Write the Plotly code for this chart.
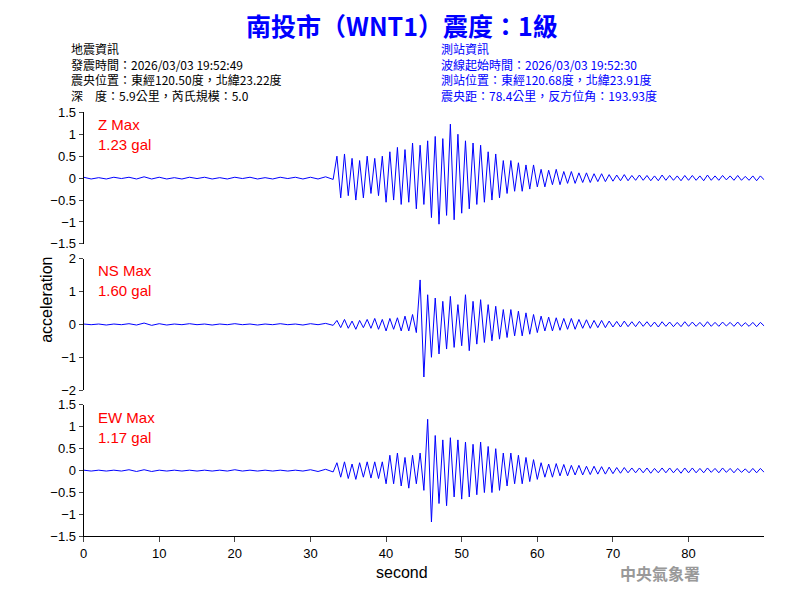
import numpy as np
import plotly.graph_objects as go

# pre-event noise, 0..33 s every 1 s
pre_z = [0.02,-0.02,0.01,-0.02,0.02,-0.01,0.02,-0.02,0.03,-0.02,0.02,-0.02,0.01,-0.02,0.02,-0.01,0.02,-0.02,0.01,-0.02,0.02,-0.01,0.02,-0.02,0.01,-0.02,0.02,-0.01,0.02,-0.02,0.02,-0.02,0.03,-0.03]
pre_ns = [0.01,-0.01,0.01,-0.02,0.01,-0.01,0.02,-0.02,0.04,-0.03,0.02,-0.02,0.01,-0.01,0.02,-0.01,0.01,-0.02,0.01,-0.01,0.02,-0.01,0.01,-0.02,0.01,-0.01,0.02,-0.01,0.01,-0.02,0.02,-0.01,0.03,-0.03]
pre_ew = [0.01,-0.01,0.01,-0.01,0.01,-0.01,0.02,-0.02,0.02,-0.02,0.01,-0.01,0.01,-0.01,0.01,-0.01,0.01,-0.01,0.01,-0.01,0.02,-0.01,0.01,-0.01,0.01,-0.01,0.01,-0.01,0.01,-0.01,0.02,-0.02,0.03,-0.03]

# event section, 33.5..90 s every 0.5 s
ev_z = [0.5,-0.45,0.55,-0.4,0.45,-0.5,0.4,-0.45,0.5,-0.35,0.45,-0.4,0.5,
        -0.55,0.6,-0.5,0.7,-0.6,0.65,-0.55,0.8,-0.7,0.75,-0.6,0.85,
        -0.9,0.95,-1.05,0.9,-0.85,1.23,-0.95,1.0,-0.8,
        0.85,-0.7,0.8,-0.6,0.75,-0.55,0.6,-0.5,0.55,-0.45,
        0.4,-0.35,0.4,-0.3,0.35,-0.3,0.3,-0.25,0.3,-0.2,
        0.2,-0.2,0.18,-0.15,0.2,-0.15,0.15,-0.12,0.15,-0.12,0.12,-0.1,0.12,-0.1,0.1,-0.08,0.1,-0.08,0.08,-0.07,
        0.07,-0.06,0.08,-0.06,0.06,-0.05,0.07,-0.05,0.06,-0.06,0.05,-0.06,0.07,-0.05,0.06,-0.05,0.05,-0.06,0.06,-0.05,
        0.06,-0.05,0.05,-0.06,0.07,-0.05,0.05,-0.05,0.06,-0.04,0.05,-0.05,0.06,-0.05,0.04,-0.05,0.05,-0.06,0.05,-0.04]
ev_ns = [0.12,-0.1,0.15,-0.12,0.1,-0.15,0.12,-0.1,0.15,-0.12,0.18,-0.15,0.15,
         -0.2,0.18,-0.15,0.2,-0.2,0.25,-0.2,0.3,-0.25,1.35,-1.6,0.9,
         -1.0,0.8,-0.9,0.7,-0.75,0.85,-0.7,0.6,-0.65,
         0.9,-0.8,0.7,-0.6,0.75,-0.55,0.6,-0.5,0.55,-0.45,
         0.45,-0.4,0.45,-0.35,0.4,-0.35,0.35,-0.3,0.3,-0.25,
         0.25,-0.2,0.22,-0.2,0.2,-0.18,0.18,-0.15,0.18,-0.15,0.15,-0.12,0.14,-0.12,0.12,-0.1,0.12,-0.1,0.1,-0.08,
         0.09,-0.08,0.1,-0.07,0.08,-0.07,0.09,-0.06,0.08,-0.07,0.07,-0.08,0.08,-0.06,0.07,-0.07,0.06,-0.07,0.08,-0.06,
         0.07,-0.06,0.06,-0.07,0.08,-0.06,0.06,-0.06,0.07,-0.05,0.06,-0.06,0.07,-0.06,0.05,-0.06,0.06,-0.07,0.06,-0.05]
ev_ew = [0.18,-0.15,0.2,-0.18,0.15,-0.2,0.18,-0.15,0.2,-0.17,0.2,-0.18,0.2,
         -0.3,0.35,-0.3,0.4,-0.35,0.3,-0.4,0.35,-0.3,0.4,-0.45,1.17,
         -1.17,0.8,-0.75,0.7,-0.8,0.75,-0.6,0.7,-0.65,
         0.65,-0.6,0.6,-0.55,0.65,-0.5,0.55,-0.5,0.5,-0.45,
         0.4,-0.35,0.4,-0.3,0.35,-0.3,0.3,-0.25,0.25,-0.2,
         0.18,-0.15,0.15,-0.15,0.16,-0.12,0.14,-0.12,0.12,-0.1,0.12,-0.1,0.1,-0.09,0.1,-0.08,0.09,-0.08,0.08,-0.07,
         0.07,-0.06,0.07,-0.05,0.06,-0.05,0.06,-0.05,0.06,-0.06,0.05,-0.05,0.06,-0.05,0.06,-0.05,0.05,-0.06,0.06,-0.05,
         0.06,-0.05,0.05,-0.05,0.06,-0.04,0.05,-0.05,0.06,-0.04,0.05,-0.05,0.05,-0.04,0.04,-0.05,0.05,-0.05,0.05,-0.04]

channels = ["Z", "NS", "EW"]
max_labels = ["1.23 gal", "1.60 gal", "1.17 gal"]
y_ranges = [[-1.5, 1.5], [-2, 2], [-1.5, 1.5]]
y_ticks = [[-1.5,-1,-0.5,0,0.5,1,1.5], [-2,-1,0,1,2], [-1.5,-1,-0.5,0,0.5,1,1.5]]
x_ticks = [0, 10, 20, 30, 40, 50, 60, 70, 80]

t = np.concatenate([np.arange(0, 34, 1.0), np.arange(33.5, 90.01, 0.5)])
series = [pre_z + ev_z, pre_ns + ev_ns, pre_ew + ev_ew]

domains = [[0.595, 0.82], [0.345, 0.57], [0.095, 0.32]]

fig = go.Figure()
font = "Liberation Sans, Arial"
cjk = "Noto Sans CJK TC"


def py(px):
    # pixel row from top -> paper y
    return 1 - px / 600


for i in range(3):
    ax = "" if i == 0 else str(i + 1)
    fig.add_trace(go.Scatter(x=t, y=series[i], mode="lines", line=dict(color="#0000ff", width=1),
                             xaxis="x" + ax, yaxis="y" + ax, showlegend=False))
    fig.layout["yaxis" + ax] = dict(domain=domains[i], range=y_ranges[i], tickvals=y_ticks[i],
                                   showgrid=False, zeroline=False, showline=True, linecolor="black",
                                   ticks="outside", ticklen=4, anchor="x" + ax,
                                   tickfont=dict(family=font, size=13, color="black"))
    fig.layout["xaxis" + ax] = dict(domain=[0.1, 0.955], range=[0, 90], tickvals=x_ticks,
                                   showgrid=False, zeroline=False, showline=(i == 2), linecolor="black",
                                   ticks="outside" if i == 2 else "", showticklabels=(i == 2),
                                   anchor="y" + ax, tickfont=dict(family=font, size=13, color="black"))
    fig.add_annotation(x=0.115, y=domains[i][1] - 0.003, xref="paper", yref="paper", xanchor="left",
                       yanchor="top", align="left", showarrow=False,
                       text=channels[i] + " Max<br>" + max_labels[i],
                       font=dict(family=font, size=15, color="#ff0000"))

left = ["地震資訊", "發震時間：2026/03/03 19:52:49", "震央位置：東經120.50度，北緯23.22度",
        "深　度：5.9公里，芮氏規模：5.0"]
right = ["測站資訊", "波線起始時間：2026/03/03 19:52:30", "測站位置：東經120.68度，北緯23.91度",
         "震央距：78.4公里，反方位角：193.93度"]
fig.add_annotation(x=65 / 800, y=py(32), xref="paper", yref="paper", xanchor="left", yanchor="top",
                   align="left", showarrow=False, text="<br>".join(left),
                   font=dict(family=cjk, size=12, color="black"))
fig.add_annotation(x=437 / 800, y=py(32), xref="paper", yref="paper", xanchor="left", yanchor="top",
                   align="left", showarrow=False, text="<br>".join(right),
                   font=dict(family=cjk, size=12, color="#0000ff"))

fig.add_annotation(x=0.5, y=py(18), xref="paper", yref="paper", yanchor="middle", showarrow=False,
                   text="<b>南投市（WNT1）震度：1級</b>", font=dict(family=cjk, size=25, color="#0000ff"))
fig.add_annotation(x=0.5, y=py(580), xref="paper", yref="paper", yanchor="middle", showarrow=False,
                   text="second", font=dict(family=font, size=16, color="black"))
fig.add_annotation(x=32 / 800, y=py(300), xref="paper", yref="paper", yanchor="middle", showarrow=False,
                   text="acceleration", textangle=-90, font=dict(family=font, size=16, color="black"))
fig.add_annotation(x=702 / 800, y=py(580), xref="paper", yref="paper", yanchor="middle", showarrow=False,
                   text="<b>中央氣象署</b>", font=dict(family=cjk, size=16, color="#999999"))

fig.update_layout(width=800, height=600, margin=dict(l=0, r=0, t=0, b=0),
                  paper_bgcolor="white", plot_bgcolor="white")
fig.write_html("out.html", config={"displayModeBar": False},
               post_script="document.body.style.margin='0';document.body.style.overflow='hidden';")
